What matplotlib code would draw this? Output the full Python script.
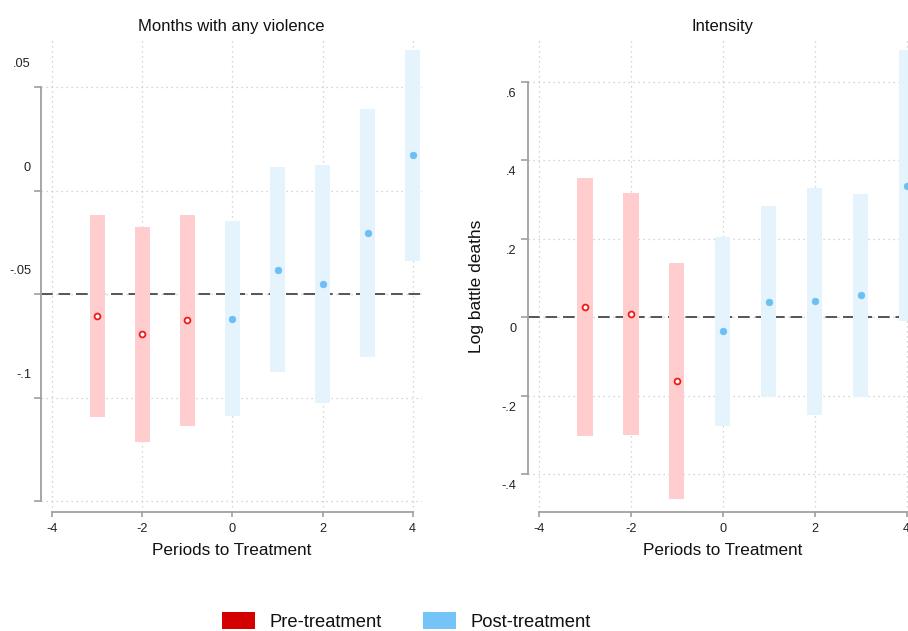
import matplotlib
matplotlib.use('Agg')
import matplotlib.pyplot as plt
from matplotlib.patches import Patch
from matplotlib.transforms import blended_transform_factory, ScaledTranslation
import numpy as np

plt.rcParams['font.family'] = ['Liberation Sans', 'DejaVu Sans']

# ---------------- data ----------------
periods = [-3, -2, -1, 0, 1, 2, 3, 4]

viol_est = [-0.0608, -0.0695, -0.0627, -0.0619, -0.0382, -0.0453, -0.0207, 0.0170]
viol_lo = [-0.1096, -0.1215, -0.1136, -0.1088, -0.0877, -0.1028, -0.0806, -0.0339]
viol_hi = [-0.0118, -0.0175, -0.0118, -0.0149, 0.0112, 0.0122, 0.0394, 0.0679]
viol_ref = -0.05
viol_yticks = [0.05, 0.0, -0.05, -0.10, -0.15]
viol_yticklabels = ['.05', '0', '-.05', '-.1', '']

int_est = [0.0255, 0.0076, -0.1636, -0.0356, 0.0392, 0.0400, 0.0552, 0.3352]
int_lo = [-0.3036, -0.3010, -0.4648, -0.2764, -0.2044, -0.2494, -0.2026, -0.0092]
int_hi = [0.3548, 0.3166, 0.1384, 0.2046, 0.2843, 0.3300, 0.3130, 0.6813]
int_ref = 0.0
int_yticks = [0.6, 0.4, 0.2, 0.0, -0.2, -0.4]
int_yticklabels = ['.6', '.4', '.2', '0', '-.2', '-.4']

xticks = [-4, -2, 0, 2, 4]
xticklabels = ['-4', '-2', '0', '2', '4']

titles = ['Months with any violence', 'Intensity']
xlabel = 'Periods to Treatment'
int_ylabel = 'Log battle deaths'
legend_labels = ['Pre-treatment', 'Post-treatment']

# ---------------- style ----------------
PRE_BAR = '#FFCDCD'
POST_BAR = '#E5F3FD'
PRE_PT = '#F01818'
POST_PT = '#6CBEF5'
LEG_PRE = '#D40000'
LEG_POST = '#74C4F8'
SPINE = '#A0A0A0'
GRID = '#C8C8C8'
TXT = '#222222'

W, H = 908, 631
fig = plt.figure(figsize=(W / 100, H / 100), dpi=100)


def px_axes(x0, x1, y0, y1):
    return fig.add_axes([x0 / W, 1 - y1 / H, (x1 - x0) / W, (y1 - y0) / H])


def panel(ax, est, lo, hi, ref, yticks, ylabels, xlim, ylim, label_dy, label_dx, title):
    ax.set_xlim(*xlim)
    ax.set_ylim(*ylim)
    x = np.array(periods)
    est = np.array(est); lo = np.array(lo); hi = np.array(hi)
    pre = x < 0
    ax.axhline(ref, color='#555555', lw=1.4, ls=(0, (6, 3)), zorder=1.5)
    ax.bar(x[pre], (hi - lo)[pre], bottom=lo[pre], width=0.33, color=PRE_BAR, zorder=2)
    ax.bar(x[~pre], (hi - lo)[~pre], bottom=lo[~pre], width=0.33, color=POST_BAR, zorder=2)
    ax.plot(x[pre], est[pre], 'o', ms=4.2, mfc='white', mec=PRE_PT, mew=1.3, zorder=3)
    ax.plot(x[~pre], est[~pre], 'o', ms=4.8, mfc=POST_PT, mec=POST_PT, mew=0.5, zorder=3)

    ax.set_xticks(xticks)
    ax.set_xticklabels(xticklabels)
    ax.set_yticks(yticks)
    ax.set_yticklabels([])
    ax.grid(True, ls=(0, (1, 3)), color=GRID, lw=0.9)
    ax.set_axisbelow(True)
    for s in ['top', 'right']:
        ax.spines[s].set_visible(False)
    for s in ['left', 'bottom']:
        ax.spines[s].set_color(SPINE)
        ax.spines[s].set_linewidth(1.3)
    ax.spines['left'].set_bounds(min(yticks), max(yticks))
    ax.spines['bottom'].set_bounds(min(xticks), max(xticks))
    ax.tick_params(axis='y', length=4.8, width=1.2, color=SPINE, direction='out')
    ax.tick_params(axis='x', length=3.4, width=1.2, color=SPINE, direction='out',
                   pad=4.5, labelsize=9.2, labelcolor=TXT)
    tr = blended_transform_factory(ax.transAxes, ax.transData) + \
        ScaledTranslation(label_dx / 100, label_dy / 100, fig.dpi_scale_trans)
    for v, s in zip(yticks, ylabels):
        ax.text(0, v, s, transform=tr, ha='right', va='center', fontsize=9.2, color=TXT)
    ax.set_title(title, fontsize=12, pad=5.3, color='#111111')
    ax.set_xlabel(xlabel, fontsize=12.3, labelpad=6, color='#111111')


ax1 = px_axes(41, 422, 38, 512)
panel(ax1, viol_est, viol_lo, viol_hi, viol_ref, viol_yticks, viol_yticklabels,
      (-4.251, 4.207), (-0.1553, 0.0737), 22.6, -10, titles[0])

ax2 = px_axes(527.7, 917, 38, 512)
panel(ax2, int_est, int_lo, int_hi, int_ref, int_yticks, int_yticklabels,
      (-4.246, 4.224), (-0.4967, 0.7112), -12.2, -11, titles[1])
ax2.set_ylabel(int_ylabel, fontsize=12.5, color='#111111')
ax2.yaxis.set_label_coords(-0.1115, 0.4757)

handles = [Patch(facecolor=LEG_PRE, edgecolor='none'), Patch(facecolor=LEG_POST, edgecolor='none')]
fig.legend(handles, legend_labels, loc='center', bbox_to_anchor=(406.5 / W, 1 - 621.2 / H),
           ncol=2, frameon=False, fontsize=13.2, handlelength=1.8, handleheight=1.04,
           handletextpad=0.8, columnspacing=2.24, borderpad=0, labelcolor='#111111')

fig.savefig('out.png', dpi=100)
